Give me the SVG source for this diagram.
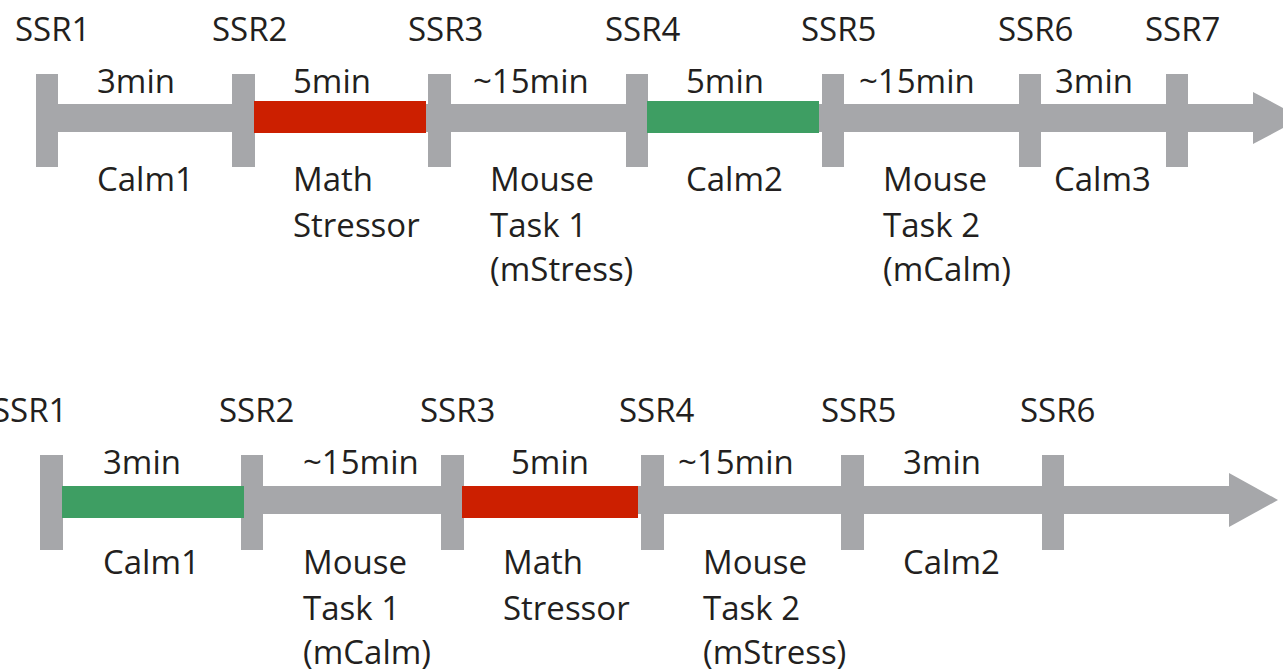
<svg xmlns="http://www.w3.org/2000/svg" width="1283" height="671" viewBox="0 0 1283 671">
<style>
.t{font-family:"Open Sans","Noto Sans","Liberation Sans",sans-serif;font-size:33px;fill:#231f20}
.bar{fill:#a6a7aa}
.stress{fill:#cc1f00}
.calm{fill:#3e9e63}
</style>
<rect width="1283" height="671" fill="#ffffff"/>
<g id="connectors">
  <rect class="bar" x="40" y="104" width="1220" height="28"/>
  <polygon class="bar" points="1253,92 1302,118 1253,144"/>
  <rect class="bar" x="44" y="486" width="1192" height="28"/>
  <polygon class="bar" points="1229,473 1278,500 1229,527"/>
</g>
<g id="row1">
  <g id="r1-ticks">
    <rect class="bar" x="36" y="74" width="22" height="93"/>
    <rect class="bar" x="232" y="74" width="23" height="93"/>
    <rect class="bar" x="428" y="74" width="23" height="93"/>
    <rect class="bar" x="626" y="74" width="22" height="93"/>
    <rect class="bar" x="822" y="74" width="22" height="93"/>
    <rect class="bar" x="1019" y="74" width="22" height="93"/>
    <rect class="bar" x="1166" y="74" width="22" height="93"/>
  </g>
  <g id="r1-calm1"><text class="t" x="97" y="93">3min</text><text class="t" x="97" y="191">Calm1</text></g>
  <g id="r1-math"><rect class="stress" x="254" y="101" width="172" height="32"/><text class="t" x="293" y="93">5min</text><text class="t" x="293" y="191">Math</text><text class="t" x="293" y="237">Stressor</text></g>
  <g id="r1-mouse1"><text class="t" x="473" y="93">~15min</text><text class="t" x="490" y="191">Mouse</text><text class="t" x="490" y="237">Task 1</text><text class="t" x="490" y="281">(mStress)</text></g>
  <g id="r1-calm2"><rect class="calm" x="647" y="101" width="172" height="32"/><text class="t" x="686" y="93">5min</text><text class="t" x="686" y="191">Calm2</text></g>
  <g id="r1-mouse2"><text class="t" x="859" y="93">~15min</text><text class="t" x="883" y="191">Mouse</text><text class="t" x="883" y="237">Task 2</text><text class="t" x="883" y="281">(mCalm)</text></g>
  <g id="r1-calm3"><text class="t" x="1055" y="93">3min</text><text class="t" x="1054" y="191">Calm3</text></g>
  <g id="r1-ssr">
    <text class="t" x="15" y="41">SSR1</text>
    <text class="t" x="212" y="41">SSR2</text>
    <text class="t" x="408" y="41">SSR3</text>
    <text class="t" x="605" y="41">SSR4</text>
    <text class="t" x="801" y="41">SSR5</text>
    <text class="t" x="998" y="41">SSR6</text>
    <text class="t" x="1145" y="41">SSR7</text>
  </g>
</g>
<g id="row2">
  <g id="r2-ticks">
    <rect class="bar" x="40" y="455" width="23" height="95"/>
    <rect class="bar" x="241" y="455" width="22" height="95"/>
    <rect class="bar" x="441" y="455" width="23" height="95"/>
    <rect class="bar" x="641" y="455" width="23" height="95"/>
    <rect class="bar" x="841" y="455" width="23" height="95"/>
    <rect class="bar" x="1042" y="455" width="22" height="95"/>
  </g>
  <g id="r2-calm1"><rect class="calm" x="62" y="486" width="182" height="32"/><text class="t" x="103" y="474">3min</text><text class="t" x="103" y="574">Calm1</text></g>
  <g id="r2-mouse1"><text class="t" x="303" y="474">~15min</text><text class="t" x="303" y="574">Mouse</text><text class="t" x="303" y="620">Task 1</text><text class="t" x="303" y="664">(mCalm)</text></g>
  <g id="r2-math"><rect class="stress" x="462" y="486" width="176" height="32"/><text class="t" x="511" y="474">5min</text><text class="t" x="503" y="574">Math</text><text class="t" x="503" y="620">Stressor</text></g>
  <g id="r2-mouse2"><text class="t" x="678" y="474">~15min</text><text class="t" x="703" y="574">Mouse</text><text class="t" x="703" y="620">Task 2</text><text class="t" x="703" y="664">(mStress)</text></g>
  <g id="r2-calm2"><text class="t" x="903" y="474">3min</text><text class="t" x="903" y="574">Calm2</text></g>
  <g id="r2-ssr">
    <text class="t" x="-8" y="422">SSR1</text>
    <text class="t" x="219" y="422">SSR2</text>
    <text class="t" x="420" y="422">SSR3</text>
    <text class="t" x="619" y="422">SSR4</text>
    <text class="t" x="821" y="422">SSR5</text>
    <text class="t" x="1020" y="422">SSR6</text>
  </g>
</g>
</svg>
